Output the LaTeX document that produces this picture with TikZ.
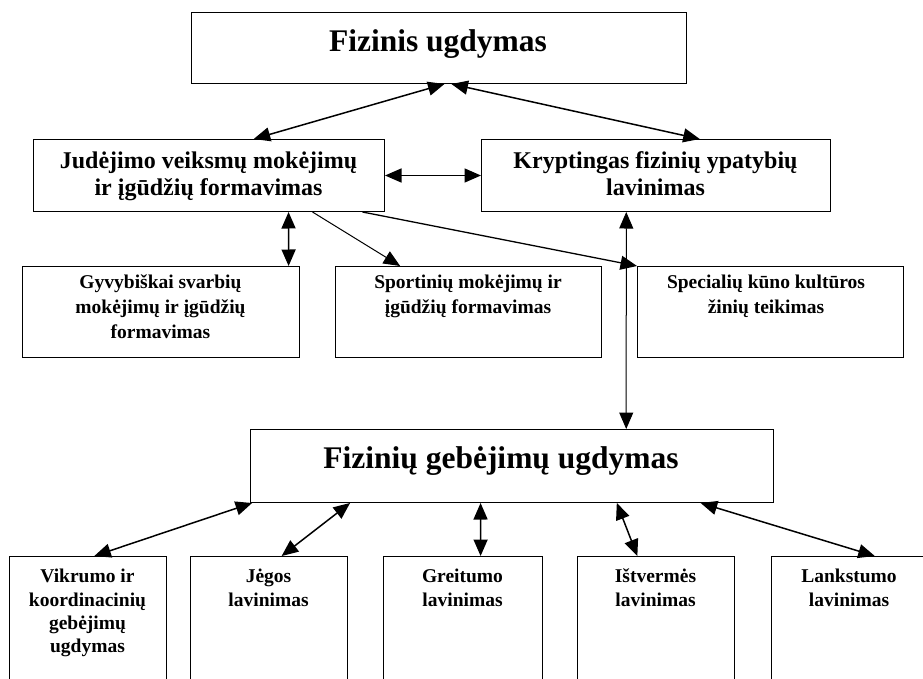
\documentclass[tikz,border=0pt]{standalone}
\usepackage{fontspec}
\setmainfont{Liberation Serif}
\usetikzlibrary{arrows.meta,calc}
\begin{document}
\begin{tikzpicture}[x=1pt,y=-1pt,
  box/.style={draw, line width=1pt, rectangle, inner sep=0pt, anchor=north west},
  lbl/.style={inner sep=0pt, align=center, anchor=north},
  big/.style={font=\bfseries\fontsize{31.5}{37}\selectfont},
  mid/.style={font=\bfseries\fontsize{24}{27}\selectfont},
  small/.style={font=\bfseries\fontsize{19.5}{25}\selectfont},
  smallb/.style={font=\bfseries\fontsize{19.5}{23.3}\selectfont},
  tip/.tip={Triangle[length=16.5pt,width=14pt]},
  both/.style={line width=1.5pt, tip-tip},
  one/.style={line width=1pt, -tip},
  onethick/.style={line width=1.3pt, -tip},
  thinboth/.style={line width=1pt, tip-tip}
]
\useasboundingbox (0,0) rectangle (923,679);
\clip (0,0) rectangle (923,679);

% boxes
\node[box, minimum width=495pt, minimum height=71pt] (top) at (191,12) {};
\node[box, minimum width=351pt, minimum height=72pt] (judg) at (33,139) {};
\node[box, minimum width=349pt, minimum height=72pt] (kryp) at (481,139) {};
\node[box, minimum width=277pt, minimum height=91pt] (gyvy) at (22,266) {};
\node[box, minimum width=266pt, minimum height=91pt] (sport) at (335,266) {};
\node[box, minimum width=266pt, minimum height=91pt] (spec) at (637,266) {};
\node[box, minimum width=523pt, minimum height=73pt] (fg) at (250,429) {};
\node[box, minimum width=157pt, minimum height=140pt] (vik) at (9,556) {};
\node[box, minimum width=157pt, minimum height=140pt] (jeg) at (190,556) {};
\node[box, minimum width=159pt, minimum height=140pt] (greit) at (383,556) {};
\node[box, minimum width=157pt, minimum height=140pt] (istv) at (577,556) {};
\node[box, minimum width=157pt, minimum height=140pt] (lank) at (770.5,556) {};

% labels
\node[lbl, big, anchor=base] (ttop) at (438,52) {Fizinis ugdymas};
\node[lbl, big, anchor=base] (tfg) at (501,468) {Fizinių gebėjimų ugdymas};
\node[lbl, mid] (tjudg) at (208.5,151.5) {Judėjimo veiksmų mokėjimų\\ir įgūdžių formavimas};
\node[lbl, mid] (tkryp) at (655.5,151.5) {Kryptingas fizinių ypatybių\\lavinimas};
\node[lbl, small] (tgyvy) at (160.5,274.5) {Gyvybiškai svarbių\\mokėjimų ir įgūdžių\\formavimas};
\node[lbl, small] (tsport) at (468,274.5) {Sportinių mokėjimų ir\\įgūdžių formavimas};
\node[lbl, small] (tspec) at (766,274.5) {Specialių kūno kultūros\\žinių teikimas};
\node[lbl, smallb] (tvik) at (87.5,569) {Vikrumo ir\\koordinacinių\\gebėjimų\\ugdymas};
\node[lbl, smallb] (tjeg) at (268.5,569) {Jėgos\\lavinimas};
\node[lbl, smallb] (tgreit) at (462.5,569) {Greitumo\\lavinimas};
\node[lbl, smallb] (tistv) at (655.5,569) {Ištvermės\\lavinimas};
\node[lbl, smallb] (tlank) at (849,569) {Lankstumo\\lavinimas};

% connectors, upper part
\draw[both] ($(judg.north west)!0.627!(judg.north east)$) -- ($(top.south west)!0.511!(top.south east)$);
\draw[both] ($(top.south west)!0.525!(top.south east)$) -- ($(kryp.north west)!0.625!(kryp.north east)$);
\draw[both] (judg.east) -- (kryp.west);
\draw[both] ($(judg.south west)!0.726!(judg.south east)$) -- ($(gyvy.north west)!0.959!(gyvy.north east)$);
\draw[one] ($(judg.south west)!0.794!(judg.south east)$) -- ($(sport.north west)!0.244!(sport.north east)$);
\draw[onethick] ($(judg.south west)!0.936!(judg.south east)$) -- (spec.north west);
\draw[thinboth] ($(kryp.south west)!0.415!(kryp.south east)$) -- ($(fg.north west)!0.718!(fg.north east)$);

% connectors, lower part
\draw[both] ($(fg.south west)!0.004!(fg.south east)$) -- ($(vik.north west)!0.54!(vik.north east)$);
\draw[both] ($(fg.south west)!0.191!(fg.south east)$) -- ($(jeg.north west)!0.58!(jeg.north east)$);
\draw[both] ($(fg.south west)!0.44!(fg.south east)$) -- ($(greit.north west)!0.61!(greit.north east)$);
\draw[both] ($(fg.south west)!0.70!(fg.south east)$) -- ($(istv.north west)!0.382!(istv.north east)$);
\draw[both] ($(fg.south west)!0.86!(fg.south east)$) -- ($(lank.north west)!0.66!(lank.north east)$);
\end{tikzpicture}
\end{document}
